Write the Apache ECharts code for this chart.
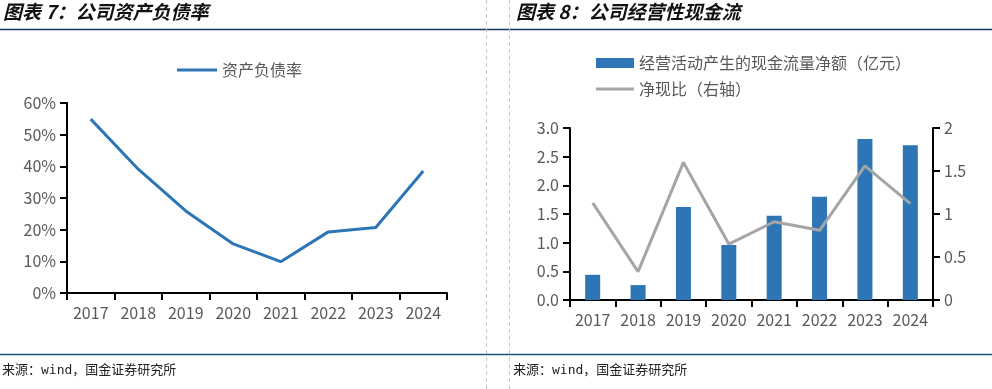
<!DOCTYPE html>
<html><head><meta charset="utf-8">
<script src="https://cdn.jsdelivr.net/npm/echarts@6/dist/echarts.min.js"></script>
<style>html,body{margin:0;padding:0;background:#fff}#c{width:992px;height:389px}</style>
</head><body><div id="c"></div>
<script>
const years = ['2017','2018','2019','2020','2021','2022','2023','2024'];
const debtRatio = [54.9, 39.1, 25.9, 15.5, 9.9, 19.3, 20.7, 38.5];
const opCashFlow = [0.44, 0.26, 1.62, 0.96, 1.47, 1.80, 2.81, 2.70];
const cashRatio = [1.13, 0.33, 1.60, 0.65, 0.91, 0.81, 1.56, 1.12];
const leftTicks = ['0%','10%','20%','30%','40%','50%','60%'];
const rightLeftTicks = ['0.0','0.5','1.0','1.5','2.0','2.5','3.0'];
const rightRightTicks = ['0','0.5','1','1.5','2'];

const FONT = '"Noto Sans CJK SC", "Open Sans", sans-serif';
const GRAY = '#595959';
const axisLine = {show:true, lineStyle:{color:'#000', width:2}};
const axisTick = {show:true, inside:false, length:7, lineStyle:{color:'#000', width:2}};
const lbl = (extra) => Object.assign({color:GRAY, fontSize:16, fontFamily:FONT}, extra||{});

const chart = echarts.init(document.getElementById('c'), null, {renderer:'canvas'});
chart.setOption({
  animation:false,
  backgroundColor:'#fff',
  textStyle:{fontFamily:FONT},
  grid:[
    {left:67, top:103, width:380, height:190, containLabel:false},
    {left:570, top:128, width:363, height:172, containLabel:false}
  ],
  legend:[
    {left:172, top:57, itemWidth:40, itemHeight:3, itemGap:10, icon:'rect',
     textStyle:{color:GRAY, fontSize:16, fontFamily:FONT}, data:[{name:'资产负债率'}]},
    {left:591, top:50, itemWidth:38, itemHeight:10, icon:'rect',
     textStyle:{color:GRAY, fontSize:16, fontFamily:FONT}, data:[{name:'经营活动产生的现金流量净额（亿元）'}]},
    {left:591, top:76, itemWidth:38, itemHeight:3, icon:'rect',
     textStyle:{color:GRAY, fontSize:16, fontFamily:FONT}, data:[{name:'净现比（右轴）'}]}
  ],
  xAxis:[
    {type:'category', gridIndex:0, data:years, boundaryGap:true, axisLine, axisTick,
     axisLabel:lbl({margin:12, interval:0, hideOverlap:false}), splitLine:{show:false}},
    {type:'category', gridIndex:1, data:years, boundaryGap:true, axisLine, axisTick,
     axisLabel:lbl({margin:12, interval:0, hideOverlap:false}), splitLine:{show:false}}
  ],
  yAxis:[
    {type:'value', gridIndex:0, min:0, max:60, interval:10, axisLine, axisTick,
     axisLabel:lbl({margin:11, formatter:(v)=>leftTicks[Math.round(v/10)]}), splitLine:{show:false}},
    {type:'value', gridIndex:1, min:0, max:3, interval:0.5, axisLine, axisTick,
     axisLabel:lbl({margin:11, formatter:(v)=>rightLeftTicks[Math.round(v/0.5)]}), splitLine:{show:false}},
    {type:'value', gridIndex:1, position:'right', min:0, max:2, interval:0.5, axisLine, axisTick,
     axisLabel:lbl({margin:11, formatter:(v)=>rightRightTicks[Math.round(v/0.5)]}), splitLine:{show:false}}
  ],
  series:[
    {name:'资产负债率', type:'line', xAxisIndex:0, yAxisIndex:0, data:debtRatio,
     symbol:'none', lineStyle:{color:'#2E75B6', width:3}, itemStyle:{color:'#2E75B6'}},
    {name:'经营活动产生的现金流量净额（亿元）', type:'bar', xAxisIndex:1, yAxisIndex:1, data:opCashFlow,
     barWidth:15, itemStyle:{color:'#2E75B6'}},
    {name:'净现比（右轴）', type:'line', xAxisIndex:1, yAxisIndex:2, data:cashRatio,
     symbol:'none', lineStyle:{color:'#A5A5A5', width:3}, itemStyle:{color:'#A5A5A5'}}
  ],
  graphic:[
    {type:'text', left:3, top:2, style:{text:'图表 7：公司资产负债率', fill:'#111',
      font:'italic bold 19px "Noto Sans CJK SC"'}},
    {type:'text', left:516, top:2, style:{text:'图表 8：公司经营性现金流', fill:'#111',
      font:'italic bold 19px "Noto Sans CJK SC"'}},
    {type:'line', shape:{x1:0, y1:29.5, x2:992, y2:29.5}, style:{stroke:'#17375E', lineWidth:1.5}},
    {type:'line', shape:{x1:0, y1:354.5, x2:992, y2:354.5}, style:{stroke:'#0F5575', lineWidth:1.5}},
    {type:'line', shape:{x1:486.5, y1:0, x2:486.5, y2:389}, style:{stroke:'#C8C8C8', lineWidth:1, lineDash:[4,3]}},
    {type:'line', shape:{x1:509.5, y1:0, x2:509.5, y2:389}, style:{stroke:'#C8C8C8', lineWidth:1, lineDash:[4,3]}},
    {type:'text', left:2, top:364, style:{text:'来源：wind，国金证券研究所', fill:'#222',
      font:'13px "DejaVu Sans Mono", "Noto Sans CJK SC"'}},
    {type:'text', left:513, top:364, style:{text:'来源：wind，国金证券研究所', fill:'#222',
      font:'13px "DejaVu Sans Mono", "Noto Sans CJK SC"'}}
  ]
});
</script>
</body></html>
